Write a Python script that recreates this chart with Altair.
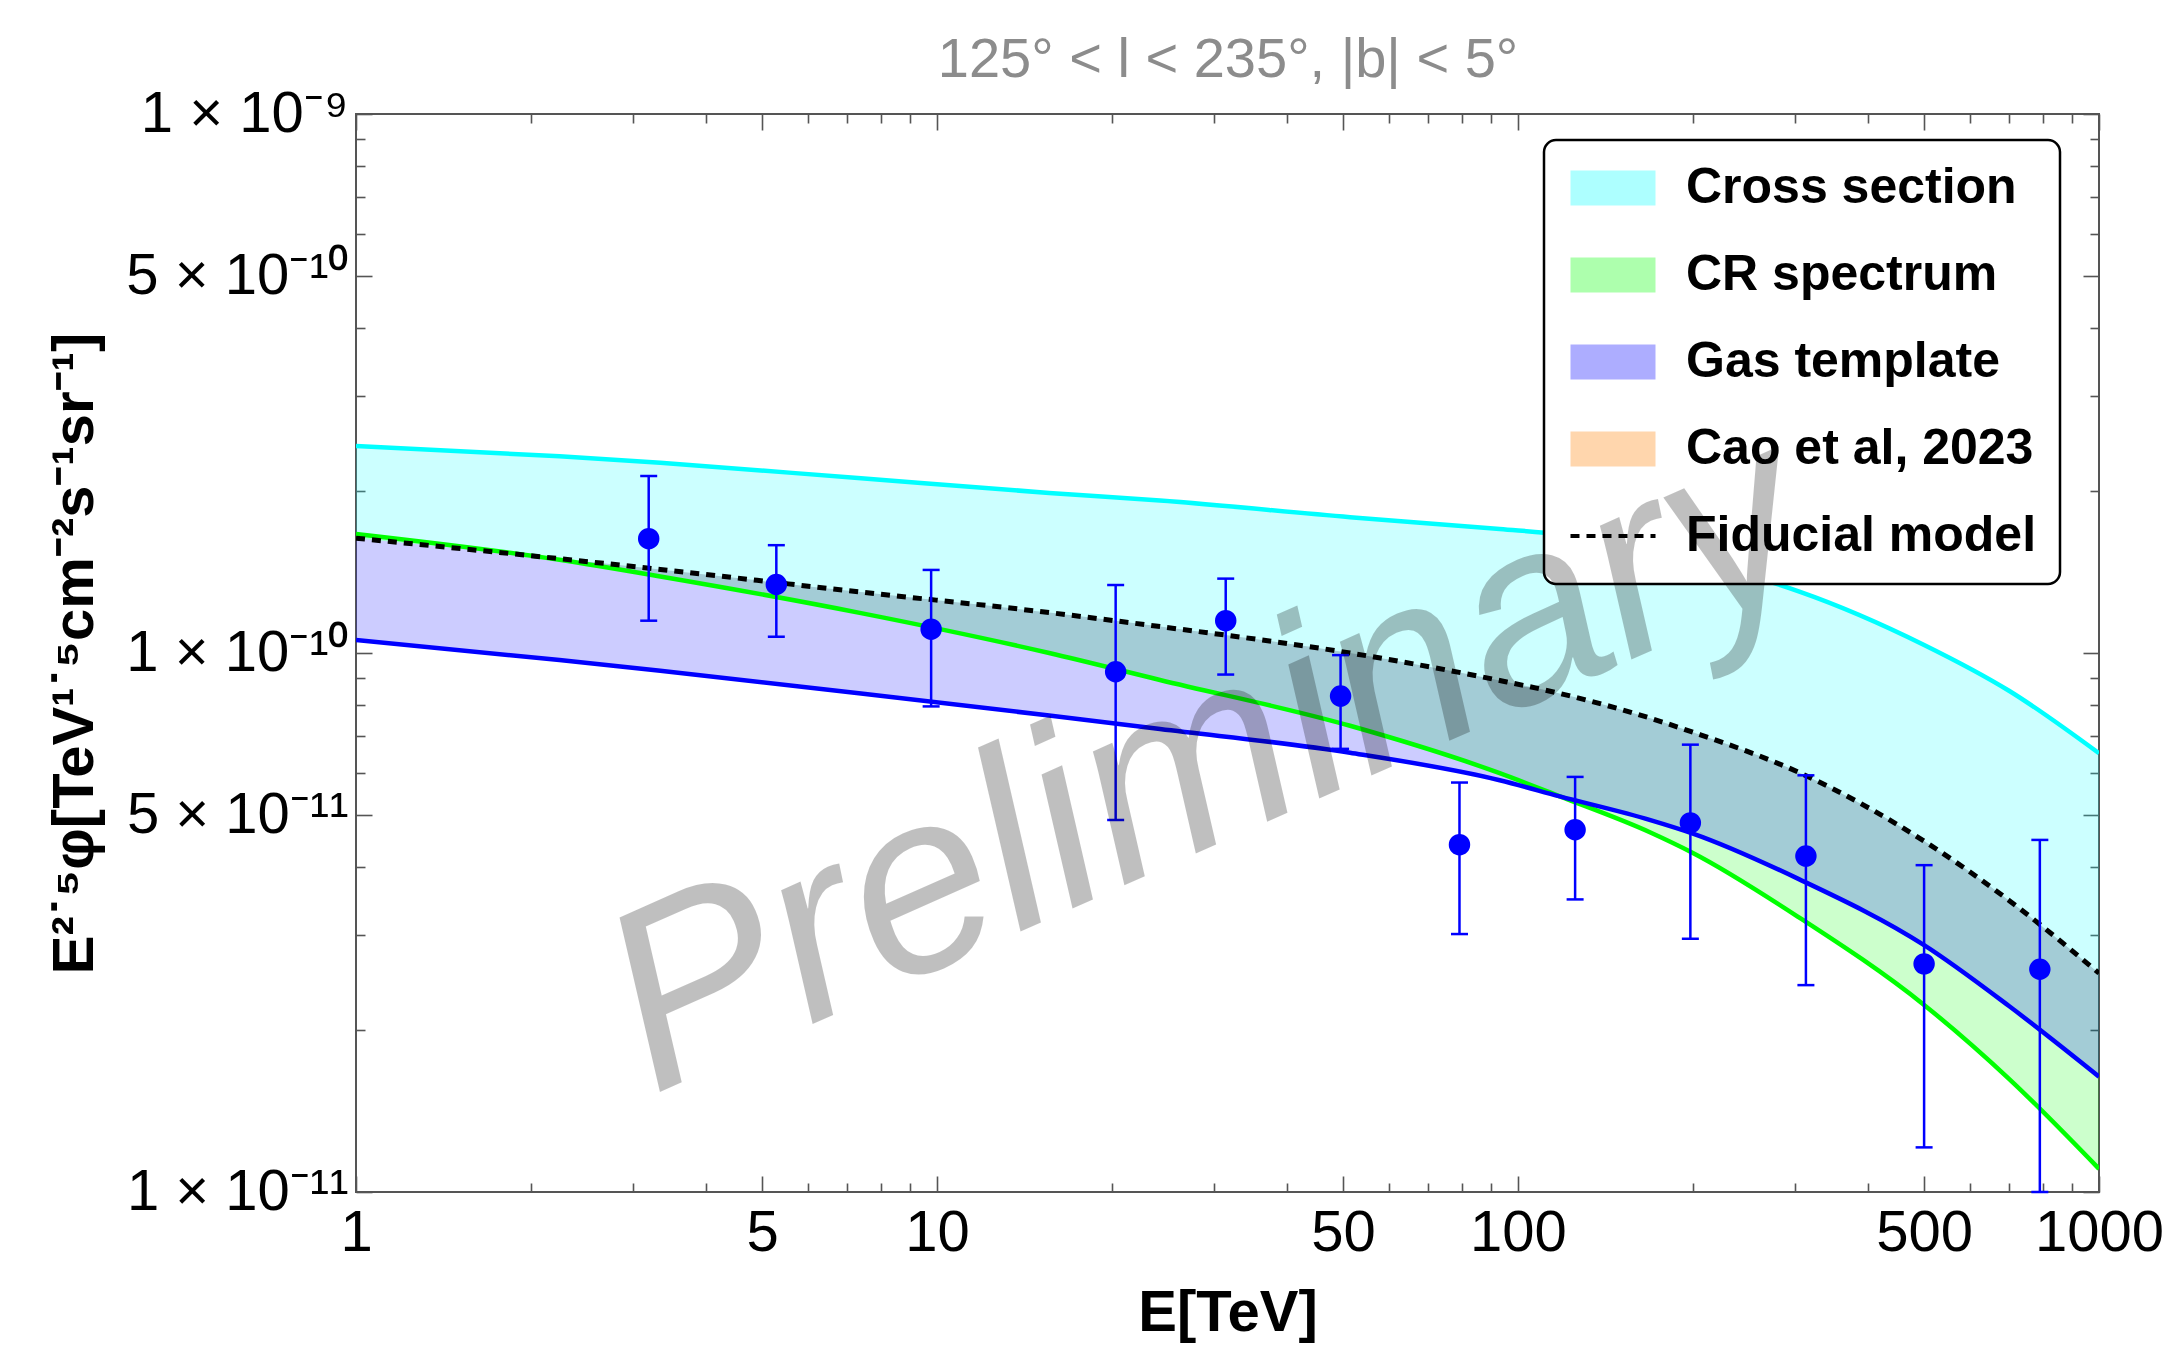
import altair as alt
import pandas as pd

FONT = "Liberation Sans, Arial, Helvetica, sans-serif"

# ---- model curves (log10 of E^2.5 * phi) ----
E_curve = [1, 2.24, 3.34, 7.4, 15.6, 24.2, 51.4, 93, 118, 169, 200, 305, 500, 700, 1000]
cross_section_log = [-9.616, -9.635, -9.647, -9.676, -9.703, -9.717, -9.748, -9.770, -9.780,
                     -9.815, -9.830, -9.886, -9.985, -10.070, -10.186]
fiducial_log = [-9.787, -9.825, -9.845, -9.887, -9.925, -9.951, -10.000, -10.051, -10.075,
                -10.121, -10.147, -10.222, -10.349, -10.459, -10.594]
cr_spectrum_log = [-9.779, -9.827, -9.858, -9.926, -10.000, -10.050, -10.135, -10.223, -10.266,
                   -10.333, -10.371, -10.491, -10.653, -10.790, -10.957]
gas_template_log = [-9.976, -10.013, -10.033, -10.075, -10.116, -10.141, -10.185, -10.236, -10.266,
                    -10.310, -10.335, -10.420, -10.542, -10.655, -10.786]

# ---- data points with error bars ----
E_pts = [3.19, 5.29, 9.77, 20.3, 31.4, 49.5, 79.3, 125.4, 198, 313, 500, 791]
flux_pts = [1.63e-10, 1.34e-10, 1.107e-10, 9.23e-11, 1.148e-10, 8.32e-11, 4.41e-11, 4.70e-11,
            4.84e-11, 4.20e-11, 2.65e-11, 2.59e-11]
flux_hi = [2.13e-10, 1.585e-10, 1.426e-10, 1.337e-10, 1.374e-10, 9.91e-11, 5.75e-11, 5.89e-11,
           6.76e-11, 5.93e-11, 4.04e-11, 4.50e-11]
flux_lo = [1.148e-10, 1.072e-10, 7.96e-11, 4.90e-11, 9.12e-11, 6.64e-11, 3.01e-11, 3.49e-11,
           2.95e-11, 2.42e-11, 1.21e-11, 1.00e-11]

legend_names = ["Cross section", "CR spectrum", "Gas template", "Cao et al, 2023", "Fiducial model"]
legend_colors = ["#00ffff", "#00ff00", "#0000ff", "#ff8000", "#ffffff"]
line_colors = ["#00ffff", "#00ff00", "#0000ff"]

x_major = [1, 5, 10, 50, 100, 500, 1000]
x_minor = [2, 3, 4, 6, 7, 8, 9, 20, 30, 40, 60, 70, 80, 90, 200, 300, 400, 600, 700, 800, 900]
y_major = [1e-11, 5e-11, 1e-10, 5e-10, 1e-9]
y_minor = [2e-11, 3e-11, 4e-11, 6e-11, 7e-11, 8e-11, 9e-11,
           2e-10, 3e-10, 4e-10, 6e-10, 7e-10, 8e-10, 9e-10]

# ---- tables ----
curves = {"Cross section": cross_section_log, "CR spectrum": cr_spectrum_log,
          "Gas template": gas_template_log}
band_rows, line_rows = [], []
for name, logs in curves.items():
    for e, lv, fv in zip(E_curve, logs, fiducial_log):
        band_rows.append({"E": e, "band": name, "lo": 10 ** lv, "hi": 10 ** fv})
        line_rows.append({"E": e, "curve": name, "flux": 10 ** lv})
band_df = pd.DataFrame(band_rows)
line_df = pd.DataFrame(line_rows)
fid_df = pd.DataFrame({"E": E_curve, "flux": [10 ** v for v in fiducial_log],
                       "model": ["Fiducial model"] * len(E_curve)})
pts_df = pd.DataFrame({"E": E_pts, "flux": flux_pts, "lo": flux_lo, "hi": flux_hi})

xs = alt.Scale(type="log", domain=[1, 1000], nice=False)
ys = alt.Scale(type="log", domain=[1e-11, 1e-9], nice=False)

TICK = "#555555"

def tick_axis(orient, values, size):
    return alt.Axis(orient=orient, values=values, tickSize=size, offset=-size, ticks=True,
                    tickColor=TICK, tickWidth=1.6, labels=False, domain=False, grid=False,
                    title=None)

ax_bottom = alt.Axis(orient="bottom", values=x_major, format="d", labelFont=FONT,
                     labelFontSize=58, labelColor="black", labelPadding=12, labelFlush=False,
                     labelOverlap=False, ticks=False, tickSize=0, domain=False, grid=False,
                     title="E[TeV]", titleFont=FONT, titleFontSize=58, titleFontWeight="bold",
                     titleColor="black", titlePadding=22)
ax_top_title = alt.Axis(orient="top", labels=False, ticks=False, tickSize=0, domain=False,
                        grid=False, title="125° < l < 235°, |b| < 5°", titleFont=FONT,
                        titleFontSize=56, titleFontWeight="normal", titleColor="#8c8c8c",
                        titlePadding=26)
y_label_expr = ("datum.value < 1.5e-11 ? '1 × 10⁻¹¹' : datum.value < 6e-11 ? '5 × 10⁻¹¹' : "
                "datum.value < 1.5e-10 ? '1 × 10⁻¹⁰' : datum.value < 6e-10 ? '5 × 10⁻¹⁰' : '1 × 10⁻⁹'")
ay_left = alt.Axis(orient="left", values=y_major, labelExpr=y_label_expr, labelFont=FONT,
                   labelFontSize=58, labelColor="black", labelPadding=8, labelFlush=False,
                   labelOverlap=False, labelLimit=600, ticks=False, tickSize=0, domain=False,
                   grid=False,
                   title="E²˙⁵φ[TeV¹˙⁵cm⁻²s⁻¹sr⁻¹]", titleFont=FONT, titleFontSize=58,
                   titleFontWeight="bold", titleColor="black", titlePadding=52, titleLimit=2000)

RECT = "M-1.932,-0.795H1.932V0.795H-1.932Z"
DASH = "M-1.932,0H1.932"
fill_legend = alt.Legend(
    title=None, orient="none", legendX=1188, legendY=26, direction="vertical",
    fillColor="white", strokeColor="black", cornerRadius=12, padding=23,
    symbolType=RECT, symbolSize=1936, symbolOffset=21, symbolStrokeWidth=0,
    symbolOpacity=0.32,
    labelFont=FONT, labelFontSize=50, labelFontWeight="bold", labelColor="black",
    labelOffset=48, labelLimit=1000, rowPadding=37, zindex=0,
)
dash_legend = alt.Legend(
    title=None, orient="none", legendX=1232, legendY=397, direction="vertical",
    padding=0, symbolType=DASH, symbolSize=1936, symbolOffset=0, symbolStrokeWidth=4,
    symbolStrokeColor="black", labelExpr="''", labelFontSize=50, labelOffset=0, zindex=1,
)
fill_enc = alt.Fill("band:N", scale=alt.Scale(domain=legend_names, range=legend_colors),
                    legend=fill_legend)

def band_layer(name, xax, yax):
    return alt.Chart(band_df).transform_filter(alt.datum.band == name).mark_area(
        opacity=0.2, interpolate="monotone", clip=True).encode(
        x=alt.X("E:Q", scale=xs, axis=xax),
        y=alt.Y("lo:Q", scale=ys, axis=yax),
        y2="hi:Q",
        fill=fill_enc,
    )

l1 = band_layer("Cross section", ax_bottom, ay_left)
l2 = band_layer("CR spectrum", tick_axis("bottom", x_major, 16), tick_axis("left", y_major, 16))
l3 = band_layer("Gas template", tick_axis("bottom", x_minor, 9), tick_axis("left", y_minor, 9))

l4 = alt.Chart(line_df).mark_line(strokeWidth=4.5, interpolate="monotone", clip=True).encode(
    x=alt.X("E:Q", scale=xs, axis=ax_top_title),
    y=alt.Y("flux:Q", scale=ys, axis=tick_axis("right", y_major, 16)),
    stroke=alt.Stroke("curve:N", scale=alt.Scale(domain=list(curves.keys()), range=line_colors),
                      legend=None),
)

l5 = alt.Chart(fid_df).mark_line(color="black", strokeWidth=5,
                                  interpolate="monotone", clip=True).encode(
    x=alt.X("E:Q", scale=xs, axis=tick_axis("top", x_major, 16)),
    y=alt.Y("flux:Q", scale=ys, axis=tick_axis("right", y_minor, 9)),
    strokeDash=alt.StrokeDash("model:N", scale=alt.Scale(domain=["Fiducial model"],
                                                          range=[[9, 7]]),
                              legend=dash_legend),
)

l6 = alt.Chart(pts_df).mark_rule(color="#0000ff", strokeWidth=2.5, clip=True).encode(
    x=alt.X("E:Q", scale=xs, axis=tick_axis("top", x_minor, 9)),
    y=alt.Y("lo:Q", scale=ys, axis=None),
    y2="hi:Q",
)

l7 = alt.Chart(pts_df).transform_fold(["lo", "hi"]).mark_tick(
    color="#0000ff", thickness=2.5, size=17, orient="horizontal", opacity=1).encode(
    x=alt.X("E:Q", scale=xs, axis=None),
    y=alt.Y("value:Q", scale=ys, axis=None),
)

l8 = alt.Chart(pts_df).mark_circle(size=460, color="#0000ff", opacity=1).encode(
    x=alt.X("E:Q", scale=xs, axis=None),
    y=alt.Y("flux:Q", scale=ys, axis=None),
)

chart = alt.layer(l1, l2, l3, l4, l5, l6, l7, l8).resolve_axis(
    x="independent", y="independent"
).properties(
    width=1743, height=1078,
    autosize=alt.AutoSizeParams(type="none"),
    padding={"left": 356, "top": 114, "right": 84, "bottom": 157},
    background="white",
    title=alt.TitleParams(text="Preliminary", angle=336, fontSize=256, font=FONT,
                          fontStyle="italic", fontWeight="normal", color="rgba(0,0,0,0.25)",
                          anchor="middle", frame="group", orient="top", offset=-1563,
                          baseline="alphabetic", align="center", limit=4000, dx=11,
                          zindex=2),
).configure_view(stroke=TICK, strokeWidth=2).configure_legend(strokeWidth=2.5)

chart.save("out.html", embed_options={"renderer": "svg", "actions": False})
